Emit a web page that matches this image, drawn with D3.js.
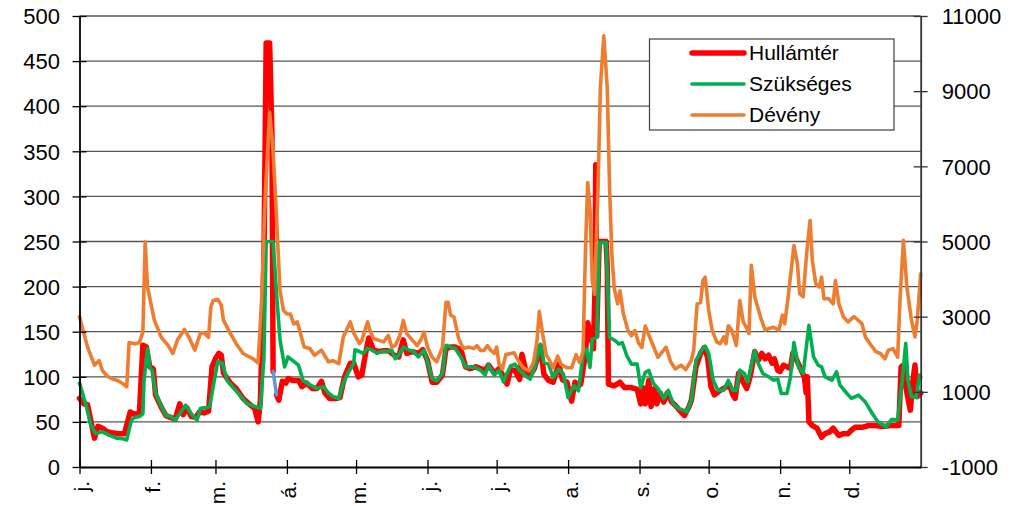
<!DOCTYPE html>
<html>
<head>
<meta charset="utf-8">
<script src="https://cdn.jsdelivr.net/npm/d3@7"></script>
<style>
  html, body { margin: 0; padding: 0; background: #fff; }
  svg { display: block; font-family: "Liberation Sans", Arial, sans-serif; }
</style>
</head>
<body>
<svg id="chart" width="1019" height="506"></svg>
<script>
// ---- data ----
const monthLabels = ["j.", "f.", "m.", "á.", "m.", "j.", "j.", "a.", "s.", "o.", "n.", "d."];
const monthStarts = [0, 31, 59, 90, 120, 151, 181, 212, 243, 273, 304, 334];
const leftTicks = [0, 50, 100, 150, 200, 250, 300, 350, 400, 450, 500];
const rightTicks = [-1000, 1000, 3000, 5000, 7000, 9000, 11000];
const seriesNames = ["Hullámtér", "Szükséges", "Dévény"];

// Hullámtér (left axis)
const hullDays = [0,2,3.5,5,6.5,8,10,12,14,17,19.5,22,24,26,27.5,29,30.5,32,33,35.5,37.5,39.5,41.5,43.5,45,46.5,48.5,50.5,52,54,56,57.5,59,60.5,61.5,62.5,65.5,68,71,74,76,77.5,78.5,80,81,82.5,83.5,84,84.5,85.5,86.5,88,89.5,90.5,92.5,95,96.5,98.5,101,103,105,106.5,108.5,111.5,113,115,117.5,119,121,122.5,124,125.5,127.5,129.5,132,134,136.5,138.5,140.5,142,144.5,147,149,151,153,155,157.5,159,161,163,165.5,167.5,169.5,172,174,176,177.5,180,182,184,185.5,187,189,191,192,193.5,195.5,197.5,200,201.5,203.5,205.5,208,209.5,211.5,213.5,215,216.5,217.5,219.5,220.5,222,223,223.6,224,224.4,225.5,228.5,229,229.5,232,234.5,236.5,239.5,242,243.5,244.5,245.5,247,248,249.5,250.5,252,253.5,255,257,259,261,262.5,264.5,265.5,267.5,269.5,271,272.5,274,275.5,278,279.5,282,283.5,284.5,286,288,289.5,291,293,294.5,296,297.5,299,300.5,301.5,303,304,305.5,307,308.5,309.5,311,313,314.5,315.3,315.8,316.5,318,320,322,323.5,325.5,327,329.5,331.5,333.5,335,336.5,339.5,342.5,345,349,352,355.5,356.5,357.5,358.5,360.5,361.5,362.5,363.5,365];
const hullValues = [76,70,69,50,32,45,43,39,38,37,37,61,58,60,135,133,111,109,80,66,57,55,53,70,58,66,56,55,61,60,62,111,120,126,124,104,93,87,76,69,65,50,74,222,470,470,370,106,null,80,74,95,93,98,96,96,89,93,87,87,95,82,76,76,77,100,115,115,100,102,124,143,130,128,129,129,124,122,141,126,128,126,130,118,94,94,102,131,133,133,130,111,109,111,109,107,113,104,109,100,92,108,107,97,125,108,101,110,134,103,96,94,114,97,94,73,94,90,92,125,160,144,131,188,335,145,250,250,222,92,90,94,88,88,86,70,88,70,96,67,87,70,82,72,82,72,67,61,57,67,74,111,126,132,122,89,80,85,87,91,80,76,104,94,87,100,128,118,126,120,124,115,120,107,106,113,111,109,126,120,108,100,82,100,50,46,43,33,37,39,43,35,37,37,41,44,44,46,46,45,46,46,111,113,89,63,93,113,78,82];

// short segment drawn in blue at the April gap
const blueDays = [84, 85.5];
const blueValues = [106, 80];

// Szükséges (left axis)
const szukDays = [0,3,5,7,10,13,16,18.5,20.5,22.5,24,26,27.5,28,29.5,30.5,31.5,33,35.5,37.5,39.5,41.5,44,46,48.5,51,52.5,55,56.5,58,60,62,64,67,69.5,72.5,75.5,78.5,80,81,84,85.5,87,89,90.5,93,95,97,100,103,106,108,110,112.5,114.5,116.5,119,119.5,121.5,123,125,127,129,131.5,133.5,135.5,137,138.5,140.5,143,145,147,149.5,151,153,155,157.5,159,161,163,165.5,167.5,169.5,172,174,176,177.5,180,182,184,185.5,187,189,191,193.5,195.5,197.5,200,201.5,203.5,205.5,208,210,212,214.5,216.5,218.5,220,221.5,222.5,224.5,225.5,228.5,230,232.5,234,235.5,237.5,239.5,242,243.5,245.5,247,249,251,253.5,255.5,257.5,260,262,263.5,265.5,267.5,270,271.5,273,275,277,279.5,281.5,283.5,285,286.5,288.5,290,292,293,294.5,296.5,299,301,303,304.5,307,308.5,310,312,314,316.5,318.5,320.5,322,323.5,326.5,328.5,330,333,335,338,341,344,346.5,350,352.5,355,357,358.5,359.5,361,363,364.5,365];
const szukValues = [93,67,46,37,39,35,32,31.5,30,52,55,56,59,96,131,111,107,82,67,57,56,52,61,68.5,59,52,65,66,67,89,117,115,96,87,80,70.5,67.6,65,120,250,250,192,141,111,122,117,113,96,91,87,89,82,78,76,93,104,115,130,128,126,131.5,129.6,126,128.5,128,129.6,120,124,133,129.6,128,122,129.6,116.7,98,95.6,103.7,135,133,131.5,122,111,111,110,107.4,102,113,102,107,94.4,104,112,114,106.7,101,97.4,110.4,136,116,114,99.3,108.5,103,77,90,84.4,125,130.7,110.4,142,143.7,249,249,143.7,140,136.3,138,123.3,114,114,88,105,107,92.6,87,76,85,70.4,64.8,63,61,74,118.5,129.6,134,126,96,85,85,96,85,85,107.4,103.7,94.4,118.5,129,114.8,103.7,100,96.3,97.4,81.5,81.5,100,138,111,103.7,157,122,113,111,100,96.3,105.6,90.7,81.5,76,79.6,72,59.3,50,44.5,53,52,96,137,96,77.8,77,102,100];

// Dévény (right axis)
const devenyDays = [0,3.5,6.5,8.5,10,12,14.5,16.5,18.5,20.5,21.5,24,26,27.5,28.5,29.5,32.5,35.5,38.5,40.5,42.5,45.5,47.5,50,52.5,54,56,57,58,60,61.5,62.5,65.5,68,71,74,75.5,77.5,79,80.5,82.5,84,85.5,87,88.5,90,91.5,93,94.5,95.5,97.5,100,102,105,108,110,112.5,114.5,117.5,119,121.5,122.5,125,126,127.5,130,132,134,135.5,137,139,140.5,142,144.5,146.5,148,149.5,151,153,155,157.5,159,160,161,162.5,164.5,166.5,169,171,172.5,174,175.5,177,178.5,180,181,182,183.5,185,188.5,190.5,192.5,195,197,198.5,199.5,201,202.5,204,205.5,207.5,209,211.5,213.5,215.5,217,218.5,219.5,220.5,221.5,222.5,223.5,225,226,227.5,229,230,231,232,233.5,234.5,236,238,239.5,241,242.5,244,245.5,247.5,251,254.5,256.5,258.5,261,263,265.5,266.5,268,269.5,270.5,271.5,273,274.5,276.5,278,279.5,280.5,281.5,283,285,286.5,288,290,290.5,291.5,293,295.5,297.5,299,301,303.5,305,306,307.5,310,311.5,312.5,314,315.5,317,318,319.5,321,322,323,325,327,328,329.5,331.5,333.5,336,338,339.5,341,343,345.5,347.5,349.5,351,353,355,356,357.5,359,361,362.5,363.5,365];
const devenyValues = [3000,2190,1710,1830,1560,1420,1340,1300,1230,1130,2310,2280,2310,2590,4990,3790,2900,2450,2230,2020,2380,2660,2450,2110,2570,2570,2450,3260,3430,3460,3310,2900,2550,2280,2020,1920,1870,1770,3430,6090,8440,7410,5630,3690,3170,3070,3070,2810,2860,2640,2190,2150,1970,2110,1800,1830,1750,2470,2860,2560,2280,2370,2860,2640,2420,2370,2330,2500,2190,2230,2500,2900,2550,2370,2230,2370,2590,2190,1920,1800,2190,3380,3380,3040,2990,2420,2150,2190,2150,2230,2100,2100,2230,2100,2020,2190,1750,1610,1990,2040,1820,1640,1560,1780,2350,3140,2530,1990,1830,1640,1950,1730,1640,1640,1990,1780,2090,4650,6570,5900,3960,3600,6430,9100,10470,9080,6430,4650,3770,3340,3690,3070,2630,2490,2630,2310,2180,2750,2440,1920,2190,1800,1610,1710,1590,1840,2110,3340,3380,3960,4050,3170,2640,2330,2280,2460,2280,2760,2640,2230,3430,2860,2640,2550,4370,3530,2990,2640,2680,2720,2640,3040,2810,3530,4890,4410,3610,3530,4680,5560,4490,3870,3790,4050,3480,3480,3340,3960,3340,2990,2860,3000,2900,2810,2460,2280,2070,2020,1880,2110,2150,1920,3430,5030,3790,2900,2460,2900,4140];

// ---- layout ----
const X0 = 79.5, X1 = 920.7, Y0 = 467, Y1 = 16;
const svg = d3.select("#chart");

const x = d3.scaleLinear().domain([0, 365]).range([X0, X1]);
const yL = d3.scaleLinear().domain([0, 500]).range([Y0, Y1]);
const yR = d3.scaleLinear().domain([-1000, 11000]).range([Y0, Y1]);

// gridlines
svg.append("g").selectAll("line").data(leftTicks.filter(d => d > 0)).join("line")
  .attr("x1", X0).attr("x2", X1)
  .attr("y1", d => yL(d)).attr("y2", d => yL(d))
  .attr("stroke", "#555").attr("stroke-width", 1.3);

// series
function zip(days, vals) { return days.map((d, i) => ({ d, v: vals[i] })); }
function drawLine(days, vals, scale, color, width) {
  const line = d3.line()
    .defined(p => p.v !== null)
    .x(p => x(p.d)).y(p => scale(p.v));
  svg.append("path").datum(zip(days, vals))
    .attr("d", line).attr("fill", "none")
    .attr("stroke", color).attr("stroke-width", width)
    .attr("stroke-linejoin", "round").attr("stroke-linecap", "round");
}
drawLine(hullDays, hullValues, yL, "#ff0000", 5.5);
drawLine(blueDays, blueValues, yL, "#5b9bd5", 3.5);
drawLine(szukDays, szukValues, yL, "#00b050", 3.6);
drawLine(devenyDays, devenyValues, yR, "#ed7d31", 3.6);

// left axis
const axL = svg.append("g").attr("transform", `translate(${X0},0)`)
  .call(d3.axisLeft(yL).tickValues(leftTicks).tickSizeInner(7).tickSizeOuter(0).tickPadding(12.5)
    .tickFormat(d => String(d)));
axL.select(".domain").attr("stroke", "#000").attr("stroke-width", 1.8);
axL.selectAll(".tick line").attr("x1", 7).attr("x2", -7).attr("stroke", "#000").attr("stroke-width", 1.3);
axL.selectAll(".tick text").attr("font-size", 22).attr("fill", "#000")
  .attr("font-family", "Liberation Sans, Arial, sans-serif").attr("dy", "0.35em");

// right axis
const axR = svg.append("g").attr("transform", `translate(${X1},0)`)
  .call(d3.axisRight(yR).tickValues(rightTicks).tickSizeInner(7).tickSizeOuter(0).tickPadding(14)
    .tickFormat(d => String(d)));
axR.select(".domain").attr("stroke", "#333").attr("stroke-width", 1.8);
axR.selectAll(".tick line").attr("x1", -7).attr("x2", 7).attr("stroke", "#333").attr("stroke-width", 1.3);
axR.selectAll(".tick text").attr("font-size", 22).attr("fill", "#000")
  .attr("font-family", "Liberation Sans, Arial, sans-serif").attr("dy", "0.35em");

// bottom axis
const axB = svg.append("g").attr("transform", `translate(0,${Y0})`)
  .call(d3.axisBottom(x).tickValues(monthStarts).tickSizeInner(7).tickSizeOuter(0)
    .tickFormat((d, i) => monthLabels[i]));
axB.select(".domain").attr("stroke", "#000").attr("stroke-width", 1.8);
axB.selectAll(".tick line").attr("y1", -7).attr("y2", 7).attr("stroke", "#000").attr("stroke-width", 1.3);
axB.selectAll(".tick text")
  .attr("font-size", 21).attr("fill", "#000")
  .attr("font-family", "Liberation Sans, Arial, sans-serif")
  .attr("x", 0).attr("y", 0).attr("dy", 0)
  .attr("text-anchor", "end")
  .attr("transform", "translate(9,14) rotate(-90)");

// legend
const lg = svg.append("g");
lg.append("rect").attr("x", 649.5).attr("y", 39).attr("width", 244.5).attr("height", 91)
  .attr("fill", "#fff").attr("stroke", "#404040").attr("stroke-width", 1.2);
const legendColors = ["#ff0000", "#00b050", "#ed7d31"];
const legendWidths = [5.5, 3.6, 3.6];
const legendY = [53, 84, 115];
seriesNames.forEach((name, i) => {
  lg.append("line").attr("x1", 692).attr("x2", 744).attr("y1", legendY[i]).attr("y2", legendY[i])
    .attr("stroke", legendColors[i]).attr("stroke-width", legendWidths[i]).attr("stroke-linecap", "round");
  lg.append("text").attr("x", 749).attr("y", legendY[i]).attr("dy", "0.35em")
    .attr("font-size", 21).attr("fill", "#000").text(name);
});
</script>
</body>
</html>
